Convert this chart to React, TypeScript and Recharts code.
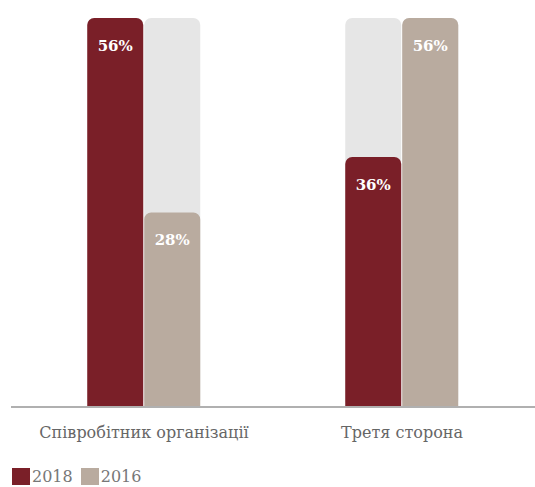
import { BarChart, Bar, XAxis, YAxis, Legend, LabelList } from 'recharts';

const categories = ['Співробітник організації', 'Третя сторона'];
const values2018 = [56, 36];
const values2016 = [28, 56];
const seriesNames = ['2018', '2016'];

const COLOR_2018 = '#7a1f28';
const COLOR_2016 = '#b9ab9f';
const BG = '#e6e6e6';
const SERIF = '"DejaVu Serif", "Liberation Serif", serif';

const data = categories.map((name, i) => ({
  name,
  y2018: values2018[i],
  y2016: values2016[i],
}));

function LegendBox() {
  const items = [
    { label: seriesNames[0], color: COLOR_2018 },
    { label: seriesNames[1], color: COLOR_2016 },
  ];
  return (
    <div style={{ display: 'flex', alignItems: 'center' }}>
      {items.map((it) => (
        <div key={it.label} style={{ display: 'flex', alignItems: 'center', marginRight: 8 }}>
          <span style={{ display: 'inline-block', width: 18, height: 17, background: it.color, marginRight: 2 }} />
          <span style={{ fontFamily: SERIF, fontSize: 16, color: '#777' }}>{it.label}</span>
        </div>
      ))}
    </div>
  );
}

export default function App() {
  return (
    <div style={{ position: 'absolute', left: 0, top: 0, background: '#fff' }}>
      <BarChart
        width={535}
        height={487}
        data={data}
        margin={{ top: 18, right: 0, left: 11, bottom: 40 }}
        barGap={1}
        barCategoryGap="28%"
      >
        <XAxis
          dataKey="name"
          tickLine={false}
          tickSize={0}
          tickMargin={20}
          padding={{ left: 4, right: 4 }}
          axisLine={{ stroke: '#b0b0b0', strokeWidth: 2 }}
          tick={{ fontFamily: SERIF, fontSize: 16, fill: '#666' }}
          height={40}
        />
        <YAxis hide domain={[0, 56]} />
        <Legend
          verticalAlign="middle"
          align="center"
          content={<LegendBox />}
          wrapperStyle={{ top: 467, left: 12, width: 300 }}
        />
        <Bar
          dataKey="y2018"
          fill={COLOR_2018}
          radius={[7, 7, 0, 0]}
          background={{ fill: BG, radius: 7 }}
          isAnimationActive={false}
        >
          <LabelList
            dataKey="y2018"
            position="insideTop"
            offset={22}
            formatter={(v: number) => `${v}%`}
            style={{ fill: '#fff', fontFamily: SERIF, fontSize: 15, fontWeight: 'bold' }}
          />
        </Bar>
        <Bar
          dataKey="y2016"
          fill={COLOR_2016}
          radius={[7, 7, 0, 0]}
          background={{ fill: BG, radius: 7 }}
          isAnimationActive={false}
        >
          <LabelList
            dataKey="y2016"
            position="insideTop"
            offset={22}
            formatter={(v: number) => `${v}%`}
            style={{ fill: '#fff', fontFamily: SERIF, fontSize: 15, fontWeight: 'bold' }}
          />
        </Bar>
      </BarChart>
    </div>
  );
}
